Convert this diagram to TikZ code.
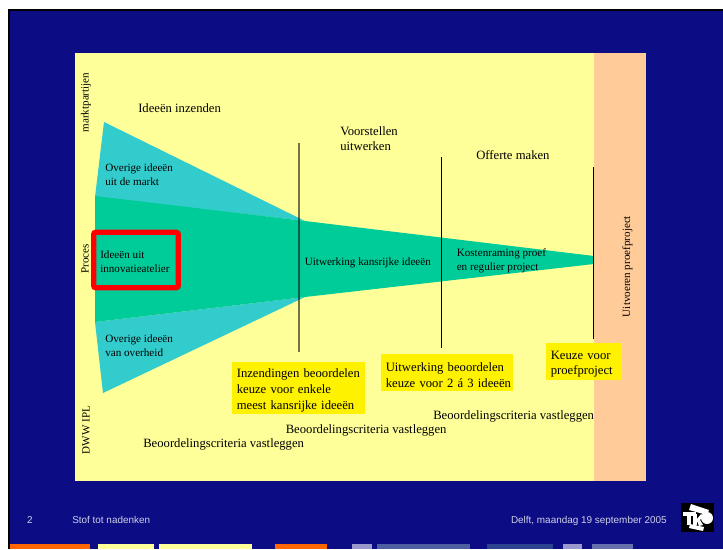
\documentclass[tikz,border=0pt]{standalone}
\usepackage{fontspec}
\setmainfont{Liberation Serif}
\setsansfont{Liberation Sans}
\definecolor{navy}{HTML}{0C0C84}
\definecolor{panel}{HTML}{FFFF99}
\definecolor{peach}{HTML}{FFCC99}
\definecolor{cyaan}{HTML}{33CCCC}
\definecolor{groen}{HTML}{00CC99}
\definecolor{oranje}{HTML}{FF6600}
\definecolor{lila}{HTML}{9999CC}
\definecolor{midblauw}{HTML}{4D5FA0}
\definecolor{donkerblauw}{HTML}{2C4490}
\definecolor{grijsblauw}{HTML}{6670AD}
\definecolor{voet}{HTML}{D0D0E8}
\tikzset{
	label big/.style = {anchor=west, align=left, inner sep=0pt, font=\fontsize{9.5}{11.4}\selectfont},
	label small/.style = {anchor=west, align=left, inner sep=0pt, font=\fontsize{8.35}{10.4}\selectfont},
	label side/.style = {rotate=90, inner sep=0pt, font=\fontsize{8.3}{10}\selectfont},
	keuze/.style = {fill=yellow, anchor=north west, align=left, inner sep=0pt, font=\fontsize{9.5}{11.7}\selectfont, execute at begin node={\rule{0pt}{10pt}}},
	voettekst/.style = {inner sep=0pt, text=voet, font=\sffamily\fontsize{7.45}{9}\selectfont},
	grens/.style = {black, line width=0.75pt}
}
\begin{document}
\begin{tikzpicture}[x=0.75pt, y=-0.75pt]
	\useasboundingbox (0,0) rectangle (723,549);
	% achtergrond
	\fill[black] (8,9) rectangle (723,549);
	\fill[navy] (10,11) rectangle (723,549);
	\fill[panel] (75,53) rectangle (594,481);
	\fill[peach] (594,53) rectangle (646,481);
	% trechter
	\fill[cyaan] (104,122) -- (305,221) -- (95,197) -- cycle;
	\fill[cyaan] (103,393) -- (305,297) -- (95,322) -- cycle;
	\fill[groen] (95,196) -- (305,221) -- (594,256) -- (594,264) -- (305,297) -- (95,322) -- cycle;
	% grenzen
	\coordinate (g1a) at (299,143);
	\coordinate (g1b) at (299,352);
	\coordinate (g2a) at (441.5,157);
	\coordinate (g2b) at (441.5,348);
	\coordinate (g3a) at (593.5,167);
	\coordinate (g3b) at (593.5,339);
	\draw[line width=1.1pt, black, opacity=0.55] (g1a) -- (g1b);
	\draw[grens] (g2a) -- (g2b);
	\draw[grens] (g3a) -- (g3b);
	% kader
	\node[draw=red, line width=3.9pt, rounded corners=1.5pt, minimum width=63.5pt, minimum height=41.5pt, inner sep=0pt] (kader) at (136,260) {};
	% teksten
	\node[label side] (markt) at (86,102.5) {marktpartijen};
	\node[label side] (proces) at (85,259) {Proces};
	\node[label side] (dww) at (86,430) {DWW IPL};
	\node[label side] (uitvoeren) at (627.5,266.5) {Uitvoeren proefproject};
	\node[label big] (inzenden) at (138,108) {Ideeën inzenden};
	\node[label big] (voorstellen) at (340,138.5) {Voorstellen\\uitwerken};
	\node[label big] (offerte) at (476,155) {Offerte maken};
	\node[label small] (markt idee) at (105,174.5) {Overige ideeën\\uit de markt};
	\node[label small] (innovatie) at (100,261.5) {Ideeën uit\\innovatieatelier};
	\node[label small] (overheid) at (105,345.5) {Overige ideeën\\van overheid};
	\node[label small] (uitwerking) at (304.5,263) {Uitwerking kansrijke ideeën};
	\node[label small] (kosten) at (456.5,261) {Kostenraming proef\\en regulier project};
	% keuzes
	\node[keuze, minimum width=99.75pt, minimum height=39pt, text width=93pt, inner xsep=3.4pt] (keuze een) at (232,362) {Inzendingen beoordelen\\keuze voor enkele\\meest kansrijke ideeën};
	\node[keuze, minimum width=99pt, minimum height=27.75pt, text width=92.2pt, inner xsep=3.4pt] (keuze twee) at (381,354) {Uitwerking beoordelen\\\mbox{keuze voor 2 á 3 ideeën}};
	\node[keuze, minimum width=55.5pt, minimum height=27.75pt, text width=50pt, inner xsep=3.4pt] (keuze drie) at (546,343) {Keuze voor\\proefproject};
	\node[label big] (criteria een) at (143,444) {Beoordelingscriteria vastleggen};
	\node[label big] (criteria twee) at (285.5,430) {Beoordelingscriteria vastleggen};
	\node[label big] (criteria drie) at (433,416) {Beoordelingscriteria vastleggen};
	% voet
	\node[voettekst, anchor=base] (pagina) at (30,523) {2};
	\node[voettekst, anchor=base west] (titel) at (72,523) {Stof tot nadenken};
	\node[voettekst, anchor=base east] (datum) at (667,523) {Delft, maandag 19 september 2005};
	% logo
	\fill[black] (681,503) rectangle (714,532);
	\fill[white] (691,504) -- (709,510) -- (707,515) -- (689,510) -- cycle;
	\fill[white] (690,524) -- (704,527) -- (703,531) -- (689,528) -- cycle;
	\fill[white] (683,512) rectangle (696,516);
	\fill[white] (687,512) rectangle (691,525);
	\fill[white] (693,514) rectangle (697,525);
	\fill[white] (697,519) -- (701,514) -- (703,516) -- (700,520) -- (703,525) -- (699,526) -- (697,521) -- cycle;
	\fill[white] (707,518) circle (6);
	% balken
	\fill[oranje] (10,544) rectangle (90,549);
	\fill[panel] (98,544) rectangle (154,549);
	\fill[panel] (159,544) rectangle (252,549);
	\fill[oranje] (275,544) rectangle (327,549);
	\fill[lila] (352,544) rectangle (372,549);
	\fill[midblauw] (377,544) rectangle (470,549);
	\fill[donkerblauw] (487,544) rectangle (553,549);
	\fill[lila] (563,544) rectangle (582,549);
	\fill[grijsblauw] (592,544) rectangle (633,549);
\end{tikzpicture}
\end{document}
